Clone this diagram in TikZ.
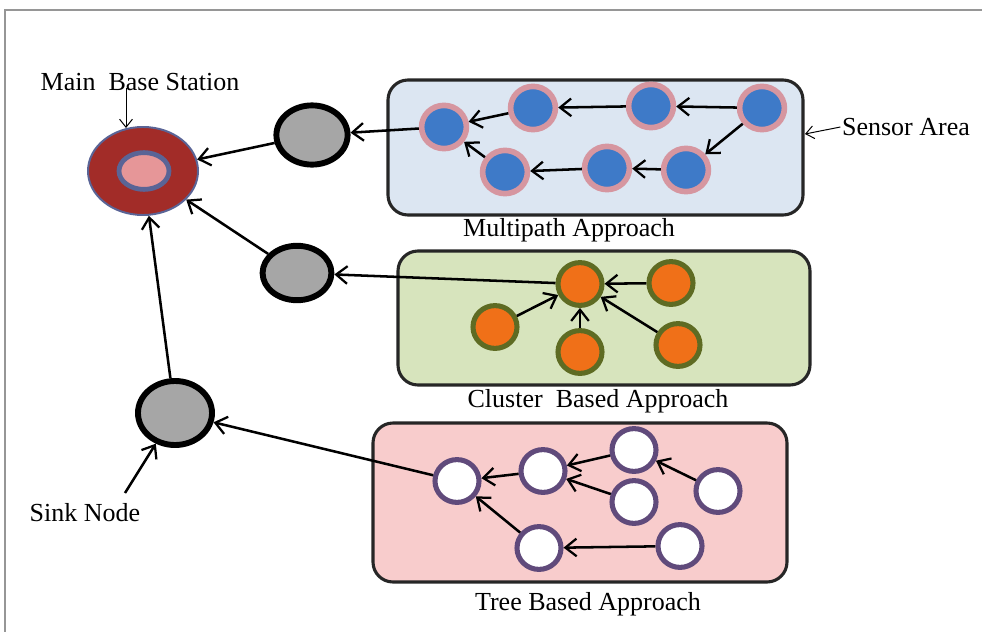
\documentclass[tikz,border=0pt]{standalone}
\usepackage{fontspec}
\setmainfont{Liberation Serif}
\usetikzlibrary{shapes,arrows.meta}
\definecolor{frameGray}{RGB}{150,150,150}
\definecolor{boxLine}{RGB}{38,38,38}
\definecolor{mpFill}{RGB}{220,230,242}
\definecolor{clFill}{RGB}{215,228,189}
\definecolor{trFill}{RGB}{248,204,204}
\definecolor{bsRed}{RGB}{162,44,40}
\definecolor{bsRim}{RGB}{90,100,150}
\definecolor{bsPink}{RGB}{230,150,152}
\definecolor{sinkGray}{RGB}{166,166,166}
\definecolor{mpBlue}{RGB}{62,122,200}
\definecolor{mpRing}{RGB}{214,150,160}
\definecolor{clOrange}{RGB}{240,112,24}
\definecolor{clOlive}{RGB}{94,107,35}
\definecolor{trPurple}{RGB}{96,74,123}

\begin{document}
\begin{tikzpicture}[x=0.025cm, y=-0.025cm,
    txt/.style={font=\fontsize{18.5}{20}\selectfont, inner sep=1pt},
    area/.style={draw=boxLine, line width=2.2pt, rounded corners=0.5cm},
    sinknd/.style={ellipse, draw=black, line width=4.2pt, fill=sinkGray, inner sep=0pt},
    mpnd/.style={ellipse, draw=mpRing, line width=4pt, fill=mpBlue, inner sep=0pt,
      minimum width=1.12cm, minimum height=1.08cm},
    clnd/.style={ellipse, draw=clOlive, line width=3.6pt, fill=clOrange, inner sep=0pt,
      minimum width=1.1cm, minimum height=1.07cm},
    trnd/.style={ellipse, draw=trPurple, line width=3.6pt, fill=white, inner sep=0pt,
      minimum width=1.1cm, minimum height=1.07cm},
    arr/.style={-{Straight Barb[length=2.8mm, width=4.4mm, line width=1.6pt]}, line width=1.8pt},
    thinarr/.style={-{Straight Barb[length=2mm, width=3.2mm]}, line width=0.7pt}]
  \useasboundingbox (0,0) rectangle (982,632);
  \draw [frameGray, line width=1.4pt] (5,632) -- (5,10) -- (982,10);

  % sensor areas
  \draw [area, fill=mpFill] (388,80) rectangle (803,215);
  \draw [area, fill=clFill] (398,251) rectangle (810,385);
  \draw [area, fill=trFill] (373,423) rectangle (787,582);

  % main base station and sink nodes
  \node (BS) at (143,171) [ellipse, draw=bsRim, line width=1.4pt, fill=bsRed,
    minimum width=2.75cm, minimum height=2.2cm] {};
  \node (BSin) at (144,171) [ellipse, draw=bsRim, line width=3.4pt, fill=bsPink,
    minimum width=1.25cm, minimum height=0.92cm] {};
  \node (G1) at (312,135) [sinknd, minimum width=1.78cm, minimum height=1.48cm] {};
  \node (G2) at (297,273) [sinknd, minimum width=1.72cm, minimum height=1.36cm] {};
  \node (G3) at (175,413) [sinknd, minimum width=1.85cm, minimum height=1.6cm] {};

  % multipath nodes
  \node (M1) at (444,127) [mpnd] {};
  \node (M2) at (533,108) [mpnd] {};
  \node (M3) at (651,106) [mpnd] {};
  \node (M4) at (762,108) [mpnd] {};
  \node (M5) at (505,172) [mpnd] {};
  \node (M6) at (607,168) [mpnd] {};
  \node (M7) at (686,170) [mpnd] {};

  % cluster nodes
  \node (C0) at (580,284) [clnd] {};
  \node (C1) at (671,283) [clnd] {};
  \node (C2) at (495,327) [clnd] {};
  \node (C3) at (580,352) [clnd] {};
  \node (C4) at (678,345) [clnd] {};

  % tree nodes
  \node (T1) at (457,481) [trnd] {};
  \node (T2) at (543,471) [trnd] {};
  \node (T3) at (634,450) [trnd] {};
  \node (T4) at (634,502) [trnd] {};
  \node (T5) at (718,491) [trnd] {};
  \node (T6) at (539,548) [trnd] {};
  \node (T7) at (680,546) [trnd] {};

  % labels
  \node (lblMain) at (140,82) [txt] {Main\ \ Base Station};
  \node (lblSensor) at (906,127) [txt] {Sensor Area};
  \node (lblSink) at (85,513) [txt] {Sink Node};
  \node (lblMP) at (569,230) [txt] {Multipath Approach};
  \node (lblCL) at (598,401) [txt] {Cluster\ \ Based Approach};
  \node (lblTR) at (588,604) [txt] {Tree Based Approach};
  \coordinate (mainFrom) at (126,88);
  \coordinate (mainTo) at (126,128);
  \coordinate (sensorTo) at (805,134);
  \coordinate (sinkFrom) at (125,493);

  \draw [thinarr] (mainFrom) -- (mainTo);
  \draw [thinarr] (lblSensor.west) -- (sensorTo);
  \draw [arr] (sinkFrom) -- (G3);

  \draw [arr] (G1) -- (BS);
  \draw [arr] (G2) -- (BS);
  \draw [arr] (G3) -- (BS);
  \draw [arr] (M1) -- (G1);
  \draw [arr] (C0) -- (G2);
  \draw [arr] (T1) -- (G3);

  \draw [arr] (M2) -- (M1);
  \draw [arr] (M3) -- (M2);
  \draw [arr] (M4) -- (M3);
  \draw [arr] (M4) -- (M7);
  \draw [arr] (M7) -- (M6);
  \draw [arr] (M6) -- (M5);
  \draw [arr] (M5) -- (M1);

  \draw [arr] (C1) -- (C0);
  \draw [arr] (C2) -- (C0);
  \draw [arr] (C3) -- (C0);
  \draw [arr] (C4) -- (C0);

  \draw [arr] (T2) -- (T1);
  \draw [arr] (T3) -- (T2);
  \draw [arr] (T4) -- (T2);
  \draw [arr] (T5) -- (T3);
  \draw [arr] (T6) -- (T1);
  \draw [arr] (T7) -- (T6);
\end{tikzpicture}
\end{document}
